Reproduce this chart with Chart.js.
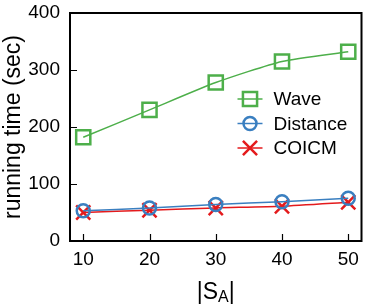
<!DOCTYPE html>
<html><head><meta charset="utf-8">
<script src="https://cdn.jsdelivr.net/npm/chart.js@4/dist/chart.umd.min.js"></script>
<style>html,body{margin:0;padding:0;background:#fff}#w{width:374px;height:306px}</style>
</head><body><div id="w"><canvas id="c"></canvas></div>
<script>
const categories = [10, 20, 30, 40, 50];
const waveValues = [182, 230, 278, 315, 332];
const distanceValues = [53, 58, 64, 69, 75];
const coicmValues = [50, 54, 58, 61, 68];
const yTicks = [0, 100, 200, 300, 400];
const seriesNames = ['Wave', 'Distance', 'COICM'];

const FONT = "'Liberation Sans', Arial, sans-serif";
const GREEN = '#4daf4a', BLUE = '#3a7fc0', RED = '#e41a1c';

const toXY = vals => vals.map((v, i) => ({x: categories[i], y: v}));

const framePlugin = {
  id: 'frame',
  afterDatasetsDraw(chart) {
    const {ctx, chartArea: a, scales} = chart;
    ctx.save();
    ctx.strokeStyle = '#000';
    ctx.lineWidth = 2;
    ctx.strokeRect(a.left, a.top, a.right - a.left, a.bottom - a.top);
    ctx.lineWidth = 1.2;
    ctx.beginPath();
    yTicks.forEach(v => {
      const y = Math.round(scales.y.getPixelForValue(v)) + 0.5;
      ctx.moveTo(a.left, y); ctx.lineTo(a.left + 7, y);
    });
    categories.forEach(v => {
      const x = Math.round(scales.x.getPixelForValue(v)) + 0.5;
      ctx.moveTo(x, a.bottom); ctx.lineTo(x, a.bottom - 7);
    });
    ctx.stroke();
    // x axis title with subscript
    ctx.fillStyle = '#000';
    ctx.textBaseline = 'alphabetic';
    const big = "23px " + FONT, small = "16px " + FONT;
    ctx.font = big; const w1 = ctx.measureText('|S').width; const w3 = ctx.measureText('|').width;
    ctx.font = small; const w2 = ctx.measureText('A').width;
    const cx = (a.left + a.right) / 2;
    let x0 = cx - (w1 + w2 + w3) / 2;
    const base = 299;
    ctx.font = big; ctx.textAlign = 'left'; ctx.fillText('|S', x0, base);
    ctx.font = small; ctx.fillText('A', x0 + w1, base + 3);
    ctx.font = big; ctx.fillText('|', x0 + w1 + w2, base);
    // legend
    const ds = chart.data.datasets;
    ctx.font = "19px " + FONT;
    ctx.textBaseline = 'middle';
    const lx = a.right - 124, tx = a.right - 88;
    ds.forEach((d, i) => {
      const y = a.top + 86 + i * 24.5;
      ctx.strokeStyle = d.borderColor; ctx.lineWidth = 1.5;
      ctx.beginPath(); ctx.moveTo(lx, y); ctx.lineTo(lx + 25, y); ctx.stroke();
      ctx.lineWidth = d.pointBorderWidth;
      ctx.fillStyle = 'rgba(0,0,0,0)';
      Chart.helpers.drawPoint(ctx, {pointStyle: d.pointStyle, radius: d.pointRadius, rotation: 0, borderWidth: d.pointBorderWidth}, lx + 12.5, y);
      ctx.fillStyle = '#000';
      ctx.fillText(d.label, tx, y + 1);
    });
    ctx.restore();
  }
};

new Chart(document.getElementById('c'), {
  type: 'line',
  data: {
    datasets: [
      {label: seriesNames[0], data: toXY(waveValues), borderColor: GREEN, backgroundColor: 'rgba(0,0,0,0)', pointStyle: 'rect', pointRadius: 10, pointBorderWidth: 2.5, borderWidth: 1.5, tension: 0.2},
      {label: seriesNames[1], data: toXY(distanceValues), borderColor: BLUE, backgroundColor: 'rgba(0,0,0,0)', pointStyle: 'circle', pointRadius: 6.5, pointBorderWidth: 2.5, borderWidth: 1.5, tension: 0.2},
      {label: seriesNames[2], data: toXY(coicmValues), borderColor: RED, backgroundColor: 'rgba(0,0,0,0)', pointStyle: 'crossRot', pointRadius: 10, pointBorderWidth: 2.5, borderWidth: 1.5, tension: 0.2}
    ]
  },
  options: {
    responsive: true, maintainAspectRatio: false, animation: false,
    devicePixelRatio: 1,
    layout: {padding: {top: 13, right: 12, left: 0, bottom: 0}},
    plugins: {legend: {display: false}, tooltip: {enabled: false}},
    scales: {
      x: {
        type: 'linear', min: 8, max: 52,
        afterBuildTicks: s => { s.ticks = categories.map(v => ({value: v})); },
        grid: {display: false, drawTicks: false},
        border: {display: false},
        ticks: {font: {size: 19, family: FONT}, color: '#000', padding: 7, maxRotation: 0},
        afterFit: s => { s.height = 65; s.paddingLeft = 0; s.paddingRight = 0; }
      },
      y: {
        min: 0, max: 400,
        afterBuildTicks: s => { s.ticks = yTicks.map(v => ({value: v})); },
        grid: {display: false, drawTicks: false},
        border: {display: false},
        ticks: {font: {size: 19, family: FONT}, color: '#000', padding: 10},
        title: {display: true, text: 'running time (sec)', font: {size: 23, family: FONT}, color: '#000', padding: {top: 0, bottom: 2}},
        afterFit: s => { s.width = 70; s.paddingTop = 0; s.paddingBottom = 0; }
      }
    }
  },
  plugins: [framePlugin]
});
</script>
</body></html>
